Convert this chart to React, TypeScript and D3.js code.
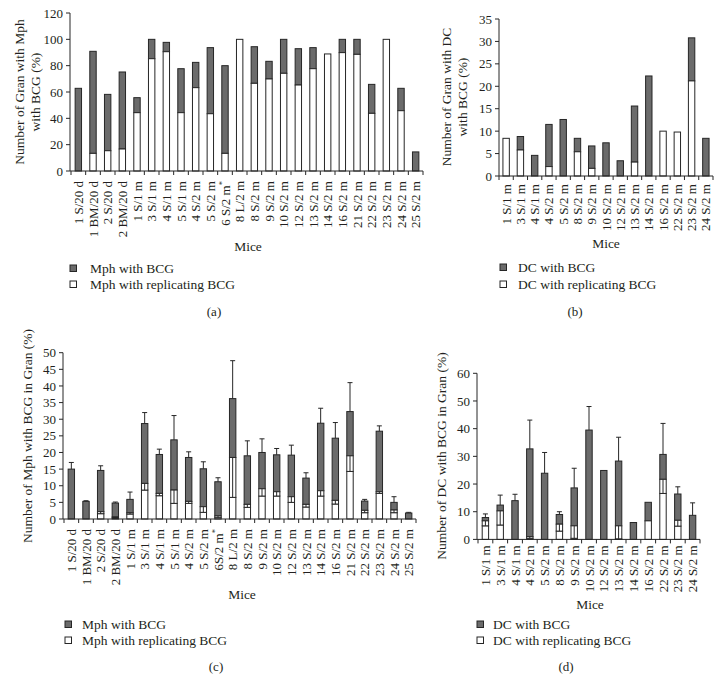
import React from "react";
import * as d3 from "d3";

// ---------- DATA ----------
const catsA = ["1 S/20 d","1 BM/20 d","2 S/20 d","2 BM/20 d","1 S/1 m","3 S/1 m","4 S/1 m","5 S/1 m","4 S/2 m","5 S/2 m","6 S/2 m*","8 L/2 m","8 S/2 m","9 S/2 m","10 S/2 m","12 S/2 m","13 S/2 m","14 S/2 m","16 S/2 m","21 S/2 m","22 S/2 m","23 S/2 m","24 S/2 m","25 S/2 m"];
const mphTotalA = [62.8, 90.9, 58.2, 75.2, 55.7, 100, 97.7, 77.7, 82.5, 93.7, 80, 100, 94.4, 83.3, 100, 92.9, 93.7, 88.9, 100, 100, 65.8, 100, 62.8, 14.5];
const mphRepA = [0, 13.4, 15.4, 16.7, 44.3, 85.3, 90.6, 44.3, 63.3, 43.5, 13.4, 100, 66.6, 69.9, 74.2, 65.3, 77.7, 88.9, 89.9, 88.6, 43.8, 100, 45.8, 0];

const catsB = ["1 S/1 m","3 S/1 m","4 S/1 m","4 S/2 m","5 S/2 m","8 S/2 m","9 S/2 m","10 S/2 m","12 S/2 m","13 S/2 m","14 S/2 m","16 S/2 m","22 S/2 m","23 S/2 m","24 S/2 m"];
const dcTotalB = [8.4, 8.8, 4.6, 11.5, 12.6, 8.4, 6.7, 7.4, 3.4, 15.6, 22.3, 10.0, 9.8, 30.8, 8.4];
const dcRepB = [8.4, 5.8, 0, 2.1, 0, 5.4, 1.7, 0, 0, 3.1, 0, 10.0, 9.8, 21.2, 0];

const catsC = ["1 S/20 d","1 BM/20 d","2 S/20 d","2 BM/20 d","1 S/1 m","3 S/1 m","4 S/1 m","5 S/1 m","4 S/2 m","5 S/2 m","6S/2 m*","8 L/2 m","8 S/2 m","9 S/2 m","10 S/2 m","12 S/2 m","13 S/2 m","14 S/2 m","16 S/2 m","21 S/2 m","22 S/2 m","23 S/2 m","24 S/2 m","25 S/2 m"];
const mphTotalC = [15.0, 5.3, 14.6, 4.8, 5.9, 28.7, 19.4, 23.8, 18.5, 15.1, 11.2, 36.2, 19.0, 20.0, 19.3, 19.2, 12.3, 28.8, 24.3, 32.3, 5.4, 26.4, 5.0, 1.8];
const mphTotalErrC = [2.0, 0.2, 1.4, 0.3, 2.2, 3.3, 1.6, 7.3, 1.7, 2.1, 1.2, 11.4, 4.5, 4.1, 1.9, 3.0, 1.6, 4.5, 4.7, 8.7, 0.5, 1.6, 1.7, 0.2];
const mphRepC = [0, 0, 1.6, 0.3, 1.5, 8.7, 7.0, 4.7, 4.7, 2.0, 0.4, 6.5, 3.5, 6.9, 6.9, 5.0, 3.6, 6.9, 4.5, 14.3, 1.9, 7.7, 1.9, 0];
const mphRepErrC = [0, 0, 0.6, 0.3, 0.4, 2.0, 0.7, 4.0, 0.6, 1.7, 0.5, 12.0, 0.9, 2.2, 1.3, 1.7, 0.8, 1.6, 1.1, 4.7, 0.7, 0.5, 0.8, 0];

const catsD = ["1 S/1 m","3 S/1 m","4 S/1 m","4 S/2 m","5 S/2 m","8 S/2 m","9 S/2 m","10 S/2 m","12 S/2 m","13 S/2 m","14 S/2 m","16 S/2 m","22 S/2 m","23 S/2 m","24 S/2 m"];
const dcTotalD = [7.9, 12.4, 14.0, 32.7, 23.9, 9.0, 18.6, 39.5, 24.9, 28.3, 6.1, 13.4, 30.7, 16.4, 8.7];
const dcTotalErrD = [1.3, 3.6, 2.3, 10.4, 7.5, 1.0, 7.1, 8.5, 0, 8.6, 0, 0, 11.2, 2.6, 4.5];
const dcRepD = [4.9, 5.2, 0, 0.4, 0, 3.0, 0.4, 0, 0, 0.2, 0, 6.7, 16.6, 4.8, 0];
const dcRepErrD = [1.8, 5.1, 0, 0.6, 0, 2.5, 4.5, 0, 0, 4.7, 0, 0, 5.1, 2.1, 0];

const legendMph = ["Mph with BCG", "Mph with replicating BCG"];
const legendDC = ["DC with BCG", "DC with replicating BCG"];

// ---------- STYLE ----------
const FONT = "'Liberation Serif', 'Times New Roman', serif";
const DARK = "#6b6b6b";
const STROKE = "#262626";
const TEXT = "#231f20";

type Spec = {
  cats: string[];
  total: number[];
  rep: number[];
  totalErr?: number[];
  repErr?: number[];
  xRange: [number, number];
  yRange: [number, number];
  yMax: number;
  yStep: number;
  axisX: number;
  labelGap: number;
  titleLines: string[];
  titleX: number[];
  titleCy: number;
  mice: [number, number];
  legend: string[];
  legendX: number;
  legendY: number[];
  legendTextX: number;
  tag: string;
  tagPos: [number, number];
};

function Label({ text }: { text: string }) {
  if (text.endsWith("*")) {
    return (
      <>
        {text.slice(0, -1)}
        <tspan baselineShift="super" fontSize="8.5">*</tspan>
      </>
    );
  }
  return <>{text}</>;
}

function Panel({ s }: { s: Spec }) {
  const x = d3.scaleBand<string>().domain(s.cats).range(s.xRange).paddingInner(0).paddingOuter(0);
  const y = d3.scaleLinear().domain([0, s.yMax]).range(s.yRange);
  const bw = 6.4;
  const step = x.step();
  const ticks = d3.range(0, s.yMax + 0.001, s.yStep);
  const y0 = y(0);
  const boundaries = d3.range(0, s.cats.length + 1).map((i) => s.xRange[0] + i * step);
  return (
    <g fontFamily={FONT} fill={TEXT}>
      {s.cats.map((c, i) => {
        const cx = (x(c) as number) + step / 2;
        const left = cx - bw / 2;
        const tot = s.total[i];
        const rep = s.rep[i];
        const rErr = s.repErr ? s.repErr[i] : 0;
        const whiteTop = rep + rErr;
        const tErr = s.totalErr ? s.totalErr[i] : 0;
        return (
          <g key={c + i}>
            {tot > whiteTop && (
              <rect x={left} width={bw} y={y(tot)} height={y(whiteTop) - y(tot)} fill={DARK} stroke={STROKE} strokeWidth={1} />
            )}
            {rep > 0 && (
              <rect x={left} width={bw} y={y(rep)} height={y0 - y(rep)} fill="#fff" stroke={STROKE} strokeWidth={1} />
            )}
            {rErr > 0 && (
              <g>
                <rect x={left} width={bw} y={y(whiteTop)} height={y(rep) - y(whiteTop)} fill="#fff" stroke={STROKE} strokeWidth={1} />
                <line x1={cx} x2={cx} y1={y(rep)} y2={y(whiteTop)} stroke={STROKE} strokeWidth={1} />
              </g>
            )}
            {tErr > 0 && (
              <g stroke={STROKE} strokeWidth={1}>
                <line x1={cx} x2={cx} y1={y(tot)} y2={y(tot + tErr)} />
                <line x1={cx - 2.5} x2={cx + 2.5} y1={y(tot + tErr)} y2={y(tot + tErr)} />
              </g>
            )}
          </g>
        );
      })}
      <line x1={s.axisX} x2={s.axisX} y1={y(s.yMax)} y2={y0} stroke={STROKE} strokeWidth={1} />
      {ticks.map((t) => (
        <g key={"t" + t}>
          <line x1={s.axisX - 4} x2={s.axisX} y1={y(t)} y2={y(t)} stroke={STROKE} strokeWidth={1} />
          <text x={s.axisX - 7} y={y(t)} dy="0.35em" textAnchor="end" fontSize={13}>{t}</text>
        </g>
      ))}
      <line x1={s.axisX} x2={s.xRange[1]} y1={y0} y2={y0} stroke={STROKE} strokeWidth={1} />
      {boundaries.map((bx, i) => (
        <line key={"b" + i} x1={bx} x2={bx} y1={y0} y2={y0 + 4} stroke={STROKE} strokeWidth={1} />
      ))}
      {s.cats.map((c, i) => {
        const cx = (x(c) as number) + step / 2;
        return (
          <text key={"l" + i} transform={`translate(${cx},${y0 + s.labelGap}) rotate(-90)`} textAnchor="end" dy="0.35em" fontSize={13}>
            <Label text={c} />
          </text>
        );
      })}
      {s.titleLines.map((ln, i) => (
        <text key={"yt" + i} transform={`translate(${s.titleX[i]},${s.titleCy}) rotate(-90)`} textAnchor="middle" fontSize={13.5}>{ln}</text>
      ))}
      <text x={s.mice[0]} y={s.mice[1]} textAnchor="middle" fontSize={13.5}>Mice</text>
      {s.legend.map((lg, i) => (
        <g key={"lg" + i}>
          <rect x={s.legendX - 3} y={s.legendY[i] - 3} width={6.5} height={6.5} fill={i === 0 ? DARK : "#fff"} stroke={STROKE} strokeWidth={1} />
          <text x={s.legendTextX} y={s.legendY[i] + 4.5} fontSize={13.5}>{lg}</text>
        </g>
      ))}
      <text x={s.tagPos[0]} y={s.tagPos[1]} textAnchor="middle" fontSize={13}>{s.tag}</text>
    </g>
  );
}

const specA: Spec = {
  cats: catsA, total: mphTotalA, rep: mphRepA,
  xRange: [71, 423], yRange: [171, 13], yMax: 120, yStep: 20, axisX: 70, labelGap: 10,
  titleLines: ["Number of Gran with Mph", "with BCG (%)"], titleX: [24, 39.5], titleCy: 92,
  mice: [248, 251], legend: legendMph, legendX: 73, legendY: [268, 284], legendTextX: 90,
  tag: "(a)", tagPos: [214, 316],
};
const specB: Spec = {
  cats: catsB, total: dcTotalB, rep: dcRepB,
  xRange: [499, 713], yRange: [176, 19], yMax: 35, yStep: 5, axisX: 499, labelGap: 8,
  titleLines: ["Number of Gran with DC", "with BCG (%)"], titleX: [451, 467], titleCy: 97,
  mice: [606, 248], legend: legendDC, legendX: 503, legendY: [267, 284], legendTextX: 518,
  tag: "(b)", tagPos: [575, 316],
};
const specC: Spec = {
  cats: catsC, total: mphTotalC, rep: mphRepC, totalErr: mphTotalErrC, repErr: mphRepErrC,
  xRange: [64, 416], yRange: [519, 352.7], yMax: 50, yStep: 5, axisX: 63, labelGap: 10,
  titleLines: ["Number of Mph with BCG in Gran (%)"], titleX: [32], titleCy: 436,
  mice: [242, 599], legend: legendMph, legendX: 68, legendY: [624, 640], legendTextX: 82,
  tag: "(c)", tagPos: [216, 671],
};
const specD: Spec = {
  cats: catsD, total: dcTotalD, rep: dcRepD, totalErr: dcTotalErrD, repErr: dcRepErrD,
  xRange: [478, 700], yRange: [539.4, 373.3], yMax: 60, yStep: 10, axisX: 477, labelGap: 6,
  titleLines: ["Number of DC with BCG in Gran (%)"], titleX: [446], titleCy: 456,
  mice: [590, 609], legend: legendDC, legendX: 480, legendY: [624, 640], legendTextX: 493,
  tag: "(d)", tagPos: [566, 671],
};

export default function App() {
  return (
    <svg width={722} height={680} viewBox="0 0 722 680" style={{ position: "absolute", left: 0, top: 0, background: "#fff" }}>
      <rect width={722} height={680} fill="#fff" />
      <Panel s={specA} />
      <Panel s={specB} />
      <Panel s={specC} />
      <Panel s={specD} />
    </svg>
  );
}
